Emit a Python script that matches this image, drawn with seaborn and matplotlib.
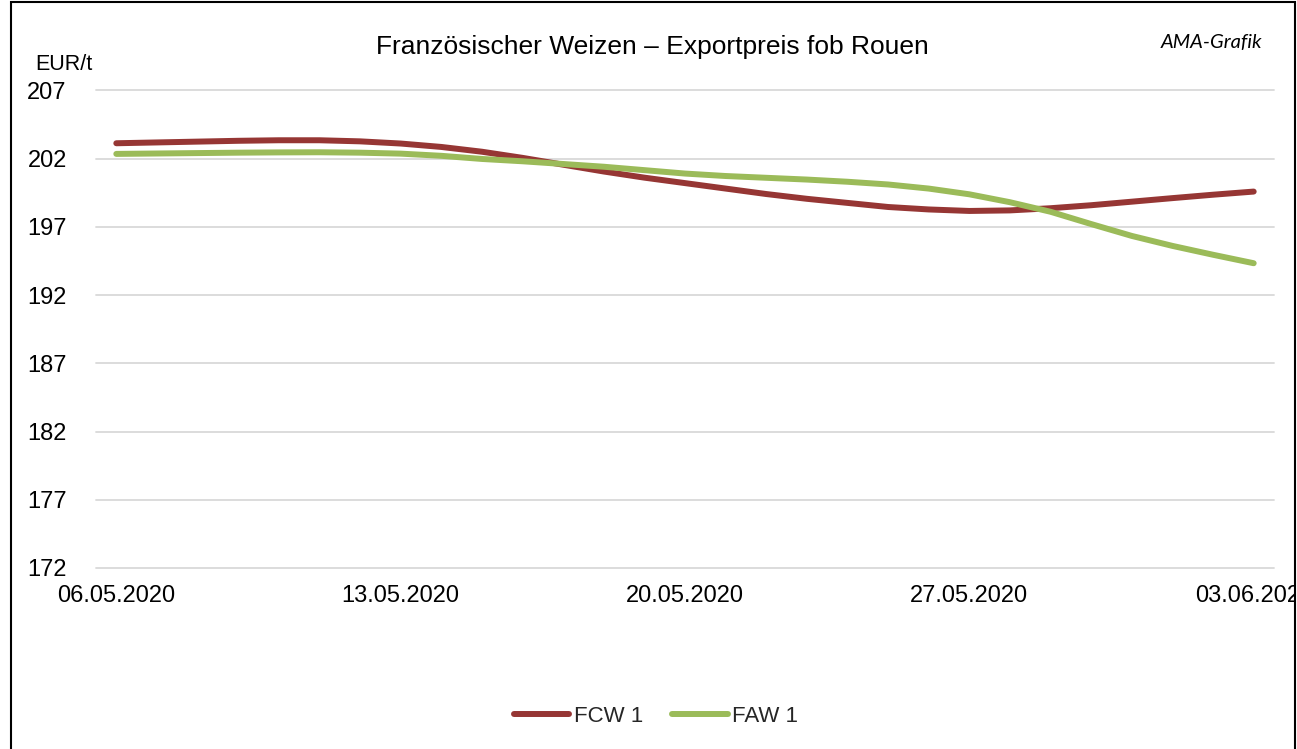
import numpy as np
import pandas as pd
import matplotlib
matplotlib.use("Agg")
import matplotlib.pyplot as plt
import seaborn as sns
from matplotlib.patches import Rectangle
from matplotlib.lines import Line2D

# ---- data ----
dates = pd.date_range("2020-05-06", "2020-06-03", freq="D")
date_labels = [d.strftime("%d.%m.%Y") for d in dates]

fcw = [203.12, 203.18, 203.24, 203.30, 203.34, 203.34, 203.26, 203.10, 202.85,
       202.50, 202.05, 201.55, 201.05, 200.60, 200.20, 199.80, 199.40, 199.05,
       198.75, 198.45, 198.27, 198.16, 198.20, 198.36, 198.58, 198.84, 199.10,
       199.35, 199.58]
faw = [202.34, 202.37, 202.40, 202.43, 202.45, 202.46, 202.43, 202.36, 202.20,
       201.97, 201.80, 201.60, 201.40, 201.15, 200.90, 200.72, 200.59, 200.46,
       200.30, 200.10, 199.80, 199.38, 198.80, 198.10, 197.20, 196.33, 195.60,
       194.95, 194.33]

series_names = ["FCW 1", "FAW 1"]
series_colors = ["#963634", "#9BBB59"]
yticks = [172, 177, 182, 187, 192, 197, 202, 207]
title = "Französischer Weizen – Exportpreis fob Rouen"
unit_label = "EUR/t"
source_label = "AMA-Grafik"
label_step = 7

# ---- styling ----
sns.set_theme(style="white")
plt.rcParams['font.family'] = ['Liberation Sans', 'DejaVu Sans']

W, H = 1297, 749
fig = plt.figure(figsize=(W / 100, H / 100), dpi=100)
fig.patch.set_facecolor("white")

left, right, top, bottom = 96, 1274, 90.3, 568
ax = fig.add_axes([left / W, 1 - bottom / H, (right - left) / W, (bottom - top) / H])

n = len(dates)
df = pd.DataFrame({
    "day": np.tile(np.arange(n), 2),
    "value": fcw + faw,
    "series": np.repeat(series_names, n),
})
sns.lineplot(data=df, x="day", y="value", hue="series",
             palette=dict(zip(series_names, series_colors)),
             hue_order=series_names, linewidth=4.3, ax=ax, legend=False,
             solid_capstyle="round", sort=False)

ax.set_xlim(-0.5, n - 0.5)
ax.set_ylim(yticks[0], yticks[-1])
ax.set_yticks(yticks)
ax.set_yticklabels([str(t) for t in yticks])
major = list(range(0, n, label_step))
ax.set_xticks(major)
ax.set_xticklabels([date_labels[i] for i in major])
ax.set_xticks([i - 0.5 for i in major], minor=True)
ax.set_xlabel("")
ax.set_ylabel("")

for s in ax.spines.values():
    s.set_visible(False)

ax.yaxis.grid(True, color="#D9D9D9", linewidth=1.3)
ax.xaxis.grid(False)
for gl in ax.yaxis.get_gridlines():
    gl.set_clip_on(False)
ax.set_axisbelow(True)

ax.tick_params(axis="y", length=0, pad=21, labelsize=17, labelcolor="black")
ax.tick_params(axis="x", which="major", length=0, pad=12, labelsize=17, labelcolor="black")
ax.tick_params(axis="x", which="minor", length=6, width=1.3, color="#D9D9D9", direction="out")

# ---- texts ----
fig.text(652 / W, 1 - 47 / H, title, ha="center", va="center", fontsize=19, color="black")
fig.text(35 / W, 1 - 64 / H, unit_label, ha="left", va="center", fontsize=15.5, color="black")
fig.text(1262 / W, 1 - 43 / H, source_label, ha="right", va="center", fontsize=14.5,
         style="italic", family=["Lato", "DejaVu Sans"], color="black")

# ---- legend ----
handles = [Line2D([0], [0], color=c, lw=4.3, solid_capstyle="round") for c in series_colors]
fig.legend(handles, series_names, loc="center", bbox_to_anchor=(656 / W, 1 - 716 / H),
           ncol=2, frameon=False, fontsize=16, handlelength=2.5, handletextpad=0.2,
           columnspacing=1.3)

# ---- outer frame (clips the last date label like the reference) ----
fig.patches.append(Rectangle((1295 / W, 0), 2 / W, 1, transform=fig.transFigure,
                             facecolor="white", edgecolor="none", zorder=4))
fig.patches.append(Rectangle((10.5 / W, -0.05), (1295 - 10.5) / W, 1.05 - 1.5 / H,
                             transform=fig.transFigure, facecolor="none",
                             edgecolor="black", linewidth=1.5, zorder=5))

fig.savefig("out.png", dpi=100)
